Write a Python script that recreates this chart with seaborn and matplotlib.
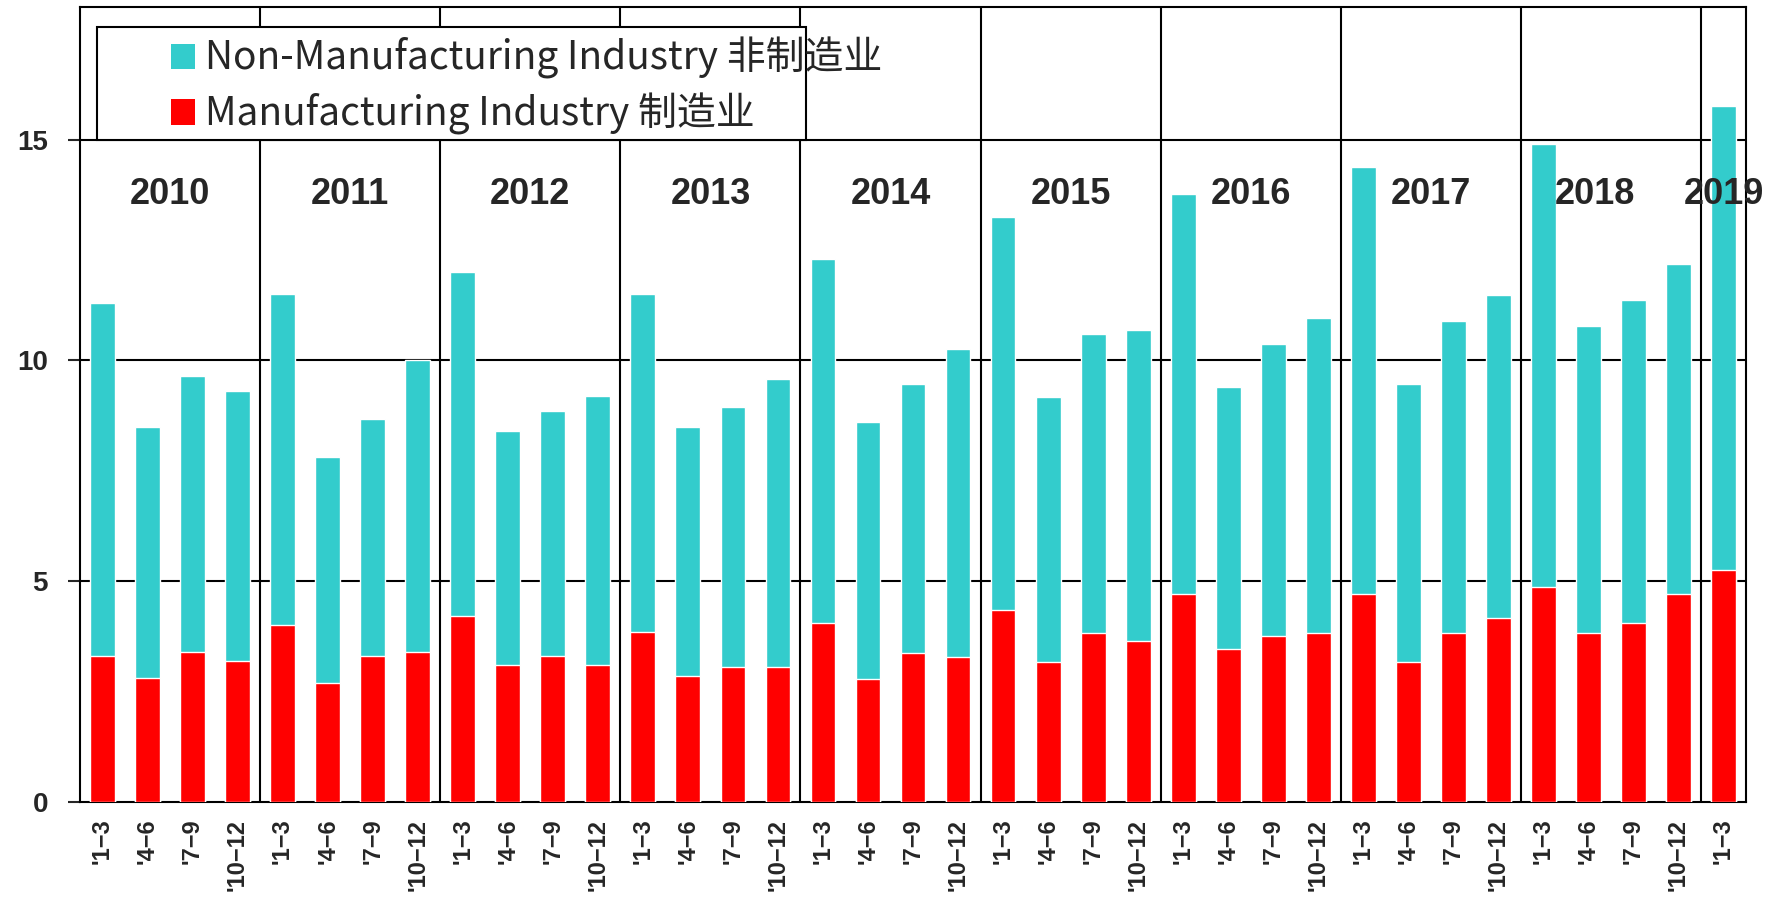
import numpy as np
import pandas as pd
import seaborn as sns
import matplotlib.pyplot as plt
from matplotlib.patches import Patch, Rectangle

# values
years = ['2010', '2011', '2012', '2013', '2014', '2015', '2016', '2017', '2018', '2019']
quarters = ["'1\u22123", "'4\u22126", "'7\u22129", "'10\u221212"]

# total height of each stacked bar (non-manufacturing + manufacturing)
total = [11.3, 8.5, 9.65, 9.3,
         11.5, 7.8, 8.67, 10.0,
         12.0, 8.4, 8.85, 9.2,
         11.5, 8.5, 8.95, 9.57,
         12.3, 8.6, 9.47, 10.26,
         13.25, 9.18, 10.6, 10.68,
         13.76, 9.39, 10.37, 10.96,
         14.38, 9.47, 10.88, 11.47,
         14.9, 10.78, 11.37, 12.19,
         15.77]
manufacturing = [3.3, 2.8, 3.4, 3.2,
                 4.0, 2.7, 3.3, 3.4,
                 4.2, 3.1, 3.3, 3.1,
                 3.85, 2.85, 3.05, 3.05,
                 4.05, 2.78, 3.37, 3.29,
                 4.35, 3.16, 3.83, 3.65,
                 4.71, 3.47, 3.76, 3.83,
                 4.71, 3.16, 3.83, 4.17,
                 4.86, 3.83, 4.06, 4.71,
                 5.25]

labels = [quarters[i % 4] for i in range(len(total))]
df = pd.DataFrame({'idx': range(len(total)), 'total': total, 'manufacturing': manufacturing})

sns.set_style('white')
plt.rcParams['font.family'] = ['Liberation Sans', 'Noto Sans CJK SC', 'DejaVu Sans']

cyan = '#33CCCC'
red = '#FF0000'

fig = plt.figure(figsize=(17.81, 9.02), dpi=100)
ax = fig.add_axes([0.0449, 0.1109, 0.9355, 0.8813])

# stacked look: full bar in cyan, manufacturing part over it in red
sns.barplot(data=df, x='idx', y='total', color=cyan, saturation=1, width=0.55,
            errorbar=None, ax=ax, zorder=3)
sns.barplot(data=df, x='idx', y='manufacturing', color=red, saturation=1, width=0.55,
            errorbar=None, ax=ax, zorder=4)

ax.set_xlim(-0.5, len(total) - 0.5)
ax.set_ylim(0, 18)

# horizontal grid lines and year separators
for yv in [5, 10, 15]:
    ax.axhline(yv, color='black', lw=1.5, zorder=1)
for k in range(1, len(years)):
    ax.axvline(4 * k - 0.5, color='black', lw=1.5, zorder=1)

# year labels, centred in each year block
for k, yr in enumerate(years):
    start = 4 * k - 0.5
    end = min(4 * k + 3.5, len(total) - 0.5)
    xc = (start + end) / 2
    if yr == '2018':
        xc -= 0.35
    ax.text(xc, 13.75, yr, ha='center', va='center', fontsize=26,
            fontweight='bold', zorder=6)

ax.set_yticks([0, 5, 10, 15])
ax.set_yticklabels(['0', '5', '10', '15'], fontsize=20, fontweight='bold')
ax.set_xticks(range(len(total)))
ax.set_xticklabels(labels, rotation=90, fontsize=17, fontweight='bold')
ax.tick_params(axis='y', length=9, width=1.5, direction='out', pad=14, left=True)
ax.tick_params(axis='x', length=0, pad=12)
ax.set_xlabel('')
ax.set_ylabel('')

for sp in ax.spines.values():
    sp.set_color('black')
    sp.set_linewidth(1.5)

# legend frame (white box) and legend entries
ax.add_patch(Rectangle((0.0102, 0.8327), 0.4256, 0.1421, transform=ax.transAxes,
                       facecolor='white', edgecolor='black', lw=1.5, zorder=7))
handles = [Patch(facecolor=cyan, edgecolor='none'), Patch(facecolor=red, edgecolor='none')]
leg = ax.legend(handles, ['Non-Manufacturing Industry 非制造业', 'Manufacturing Industry 制造业'],
                loc='upper left', bbox_to_anchor=(0.0545, 0.962), frameon=False,
                borderpad=0, borderaxespad=0, handlelength=0.62, handleheight=0.62,
                handletextpad=0.25, labelspacing=0.35,
                prop={'family': ['Noto Sans CJK SC'], 'size': 28})
leg.set_zorder(8)

fig.savefig('out.png', dpi=100)
